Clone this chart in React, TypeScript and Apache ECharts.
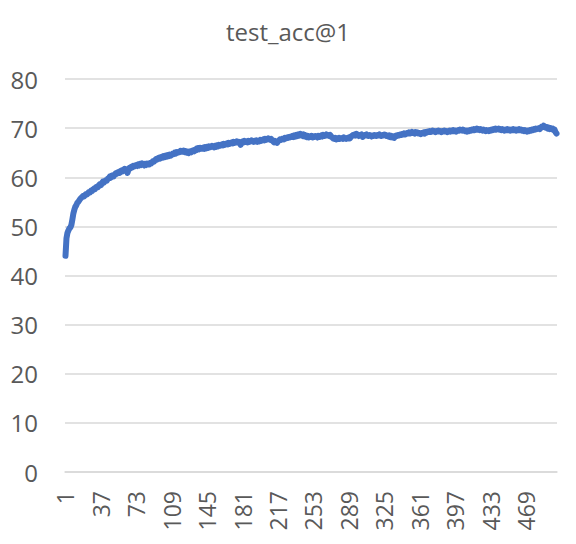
import React, { useEffect, useRef } from "react";
import * as echarts from "echarts";

const title = "test_acc@1";
const yTicks = [0, 10, 20, 30, 40, 50, 60, 70, 80];

const acc1_100 = [
  44.0, 47.6, 48.7, 49.2, 49.6, 49.8, 50.3, 51.4, 52.6, 53.4, 54.0, 54.3, 54.8, 55.0, 55.3, 55.6, 55.8, 56.0, 56.2, 56.1,
  56.4, 56.6, 56.5, 56.8, 57.0, 56.9, 57.3, 57.2, 57.5, 57.7, 57.6, 58.0, 58.1, 58.0, 58.4, 58.6, 58.4, 58.8, 59.1, 58.9,
  59.2, 59.4, 59.3, 59.7, 59.8, 60.1, 59.9, 60.3, 60.4, 60.2, 60.6, 60.8, 60.7, 61.0, 61.1, 60.9, 61.3, 61.4, 61.2, 61.5,
  61.7, 61.4, 61.6, 60.9, 61.5, 61.9, 61.8, 62.1, 62.0, 62.3, 62.2, 62.4, 62.5, 62.3, 62.6, 62.4, 62.7, 62.5, 62.8, 62.6,
  62.4, 62.7, 62.5, 62.8, 62.7, 62.6, 62.9, 62.8, 63.1, 63.3, 63.2, 63.5, 63.7, 63.6, 63.9, 64.0, 63.8, 64.1, 64.2, 64.0,
];
const acc101_200 = [
  64.3, 64.1, 64.4, 64.2, 64.5, 64.3, 64.6, 64.4, 64.6, 64.8, 64.7, 65.0, 64.8, 65.1, 65.0, 65.2, 65.1, 65.4, 65.3, 65.2,
  65.4, 65.1, 65.3, 65.0, 65.2, 64.9, 65.2, 65.3, 65.1, 65.4, 65.5, 65.3, 65.6, 65.8, 65.6, 65.9, 65.7, 66.0, 65.9, 65.8,
  66.0, 65.8, 66.1, 65.9, 66.2, 66.0, 66.3, 66.1, 66.2, 66.4, 66.3, 66.1, 66.4, 66.2, 66.5, 66.3, 66.6, 66.4, 66.5, 66.7,
  66.5, 66.8, 66.6, 66.7, 66.9, 66.7, 67.0, 66.8, 66.9, 67.1, 66.9, 67.2, 67.0, 67.1, 67.3, 67.1, 67.2, 67.0, 66.6, 67.2,
  67.3, 67.1, 67.4, 67.2, 67.3, 67.1, 67.4, 67.2, 67.3, 67.5, 67.3, 67.2, 67.4, 67.3, 67.5, 67.2, 67.4, 67.3, 67.6, 67.4,
];
const acc201_300 = [
  67.5, 67.7, 67.5, 67.8, 67.6, 67.7, 67.9, 67.7, 67.6, 67.8, 67.5, 67.3, 67.1, 67.4, 67.2, 67.0, 67.3, 67.5, 67.7, 67.6,
  67.8, 67.9, 67.7, 68.0, 67.9, 68.1, 68.0, 68.2, 68.1, 68.3, 68.2, 68.4, 68.2, 68.5, 68.3, 68.6, 68.4, 68.7, 68.5, 68.8,
  68.6, 68.4, 68.7, 68.3, 68.5, 68.2, 68.4, 68.1, 68.3, 68.2, 68.4, 68.1, 68.3, 68.2, 68.4, 68.3, 68.1, 68.4, 68.2, 68.3,
  68.5, 68.3, 68.6, 68.4, 68.5, 68.7, 68.5, 68.6, 68.4, 68.6, 68.3, 68.1, 67.9, 67.8, 68.0, 67.7, 67.9, 67.8, 68.0, 67.8,
  67.9, 68.0, 67.8, 68.1, 67.9, 67.8, 68.0, 67.9, 68.1, 67.9, 68.2, 68.4, 68.6, 68.5, 68.7, 68.5, 68.8, 68.6, 68.4, 68.6,
];
const acc301_400 = [
  68.5, 68.7, 68.2, 68.4, 68.6, 68.5, 68.7, 68.5, 68.4, 68.6, 68.5, 68.3, 68.5, 68.4, 68.6, 68.5, 68.4, 68.6, 68.5, 68.7,
  68.5, 68.4, 68.6, 68.5, 68.7, 68.6, 68.4, 68.5, 68.3, 68.5, 68.2, 68.4, 68.1, 68.3, 68.0, 68.3, 68.5, 68.4, 68.6, 68.5,
  68.7, 68.6, 68.8, 68.7, 68.9, 68.7, 68.8, 69.0, 68.9, 69.1, 68.9, 69.0, 69.2, 69.0, 69.1, 68.9, 69.2, 69.0, 69.1, 68.9,
  69.0, 68.8, 69.0, 68.9, 69.1, 68.9, 69.2, 69.1, 69.3, 69.2, 69.4, 69.2, 69.3, 69.5, 69.3, 69.4, 69.2, 69.4, 69.3, 69.5,
  69.3, 69.4, 69.2, 69.4, 69.3, 69.5, 69.3, 69.4, 69.2, 69.4, 69.5, 69.3, 69.5, 69.4, 69.6, 69.4, 69.5, 69.3, 69.5, 69.6,
];
const acc401_500 = [
  69.5, 69.7, 69.6, 69.5, 69.7, 69.6, 69.4, 69.5, 69.3, 69.5, 69.4, 69.6, 69.5, 69.7, 69.6, 69.8, 69.6, 69.7, 69.9, 69.7,
  69.8, 69.6, 69.8, 69.7, 69.5, 69.7, 69.6, 69.4, 69.6, 69.5, 69.4, 69.6, 69.5, 69.7, 69.6, 69.8, 69.7, 69.9, 69.7, 69.8,
  69.9, 69.7, 69.8, 69.6, 69.8, 69.7, 69.5, 69.7, 69.6, 69.8, 69.6, 69.7, 69.5, 69.7, 69.6, 69.8, 69.6, 69.7, 69.5, 69.7,
  69.6, 69.8, 69.6, 69.7, 69.5, 69.6, 69.4, 69.6, 69.5, 69.3, 69.5, 69.4, 69.6, 69.5, 69.7, 69.6, 69.8, 69.7, 69.9, 69.8,
  69.9, 70.0, 69.8, 70.1, 70.3, 70.2, 70.5, 70.3, 70.1, 70.2, 69.9, 70.1, 69.8, 70.0, 69.8, 69.9, 69.6, 69.7, 69.2, 68.9,
];

const values = [...acc1_100, ...acc101_200, ...acc201_300, ...acc301_400, ...acc401_500];
const categories = values.map((_, i) => String(i + 1));

const FONT = "'Open Sans', 'Noto Sans', sans-serif";
const TEXT = "#595959";

export default function App() {
  const ref = useRef<HTMLDivElement>(null);
  useEffect(() => {
    if (!ref.current) return;
    const chart = echarts.init(ref.current, null, { renderer: "svg" });
    chart.setOption({
      animation: false,
      backgroundColor: "#ffffff",
      title: {
        text: title,
        left: "center",
        top: 14,
        textStyle: { fontFamily: FONT, fontSize: 24, fontWeight: "normal", color: TEXT },
      },
      grid: { left: 65, right: 19, top: 79, bottom: 72, containLabel: false },
      xAxis: {
        type: "category",
        data: categories,
        boundaryGap: true,
        axisLine: { show: true, lineStyle: { color: "#d9d9d9", width: 1.5 } },
        axisTick: { show: false },
        axisLabel: {
          interval: 35,
          rotate: 90,
          margin: 19,
          fontFamily: FONT,
          fontSize: 23,
          color: TEXT,
        },
        splitLine: { show: false },
      },
      yAxis: {
        type: "value",
        min: yTicks[0],
        max: yTicks[yTicks.length - 1],
        interval: 10,
        axisLine: { show: false },
        axisTick: { show: false },
        axisLabel: { margin: 27, fontFamily: FONT, fontSize: 24, color: TEXT },
        splitLine: { lineStyle: { color: "#d9d9d9", width: 1.5 } },
      },
      series: [
        {
          type: "line",
          data: values,
          showSymbol: false,
          symbol: "none",
          lineStyle: { color: "#4472C4", width: 6, join: "round", cap: "round" },
          itemStyle: { color: "#4472C4" },
        },
      ],
    });
    return () => chart.dispose();
  }, []);
  return <div ref={ref} style={{ width: 576, height: 544, position: "absolute", left: 0, top: 0 }} />;
}
